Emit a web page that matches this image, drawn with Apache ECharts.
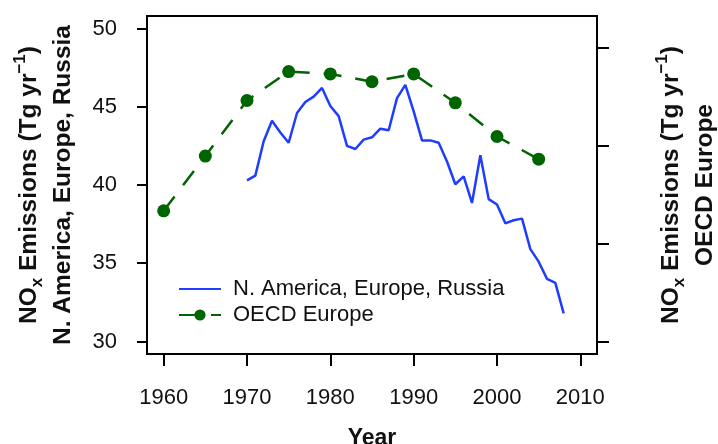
<!DOCTYPE html>
<html>
<head>
<meta charset="utf-8">
<script src="https://cdn.jsdelivr.net/npm/echarts@6/dist/echarts.min.js"></script>
<style>
  html, body { margin: 0; padding: 0; background: #fff; }
  #chart { width: 718px; height: 444px; }
</style>
</head>
<body>
<div id="chart"></div>
<script>
// N. America, Europe, Russia (annual)
let naerYears = [
  1970, 1971, 1972, 1973, 1974, 1975, 1976, 1977, 1978, 1979,
  1980, 1981, 1982, 1983, 1984, 1985, 1986, 1987, 1988, 1989,
  1990, 1991, 1992, 1993, 1994, 1995, 1996, 1997, 1998, 1999,
  2000, 2001, 2002, 2003, 2004, 2005, 2006, 2007, 2008,
];
let naerValues = [
  40.3, 40.6, 42.8, 44.1, 43.35, 42.7, 44.6, 45.3, 45.65, 46.2,
  45.05, 44.4, 42.5, 42.3, 42.9, 43.05, 43.6, 43.5, 45.55, 46.4,
  44.7, 42.85, 42.85, 42.7, 41.5, 40.05, 40.55, 38.85, 41.9, 39.1,
  38.75, 37.55, 37.75, 37.85, 35.9, 35.1, 34.0, 33.75, 31.8,
];

// OECD Europe (every 5 years)
let oecdYears = [1960, 1965, 1970, 1975, 1980, 1985, 1990, 1995, 2000, 2005];
let oecdValues = [38.35, 41.85, 45.4, 47.25, 47.1, 46.6, 47.1, 45.25, 43.1, 41.65];

let xTicks = [1960, 1970, 1980, 1990, 2000, 2010];
let yTicks = [30, 35, 40, 45, 50];
let yRightTicks = [1, 2, 3, 4];

let myChart = echarts.init(document.getElementById("chart"));

let font = "'Liberation Sans', Arial, sans-serif";
let nameRich = {
  a: { fontFamily: font, fontSize: 24.5, fontWeight: "bold", color: "#111", lineHeight: 34 },
  sub: { fontFamily: font, fontSize: 17, fontWeight: "bold", color: "#111", lineHeight: 22, verticalAlign: "bottom" },
  sup: { fontFamily: font, fontSize: 17, fontWeight: "bold", color: "#111", lineHeight: 22, verticalAlign: "top" },
};
let noxLine = "{a|NO}{sub|x}{a| Emissions (Tg yr}{sup|\u22121}{a|)}";

let option = {
  animation: false,
  textStyle: { fontFamily: font },
  grid: {
    left: 147,
    right: 121,
    top: 16,
    bottom: 90,
    containLabel: false,
    outerBoundsMode: "none",
    show: true,
    borderColor: "#000",
    borderWidth: 2,
  },
  legend: {
    orient: "vertical",
    left: 173,
    top: 273,
    itemWidth: 42,
    itemHeight: 14,
    itemGap: 4,
    textStyle: { fontSize: 22, lineHeight: 22, color: "#111", padding: [0, 0, 0, 7] },
    data: [
      { name: "N. America, Europe, Russia", itemStyle: { opacity: 0 } },
      { name: "OECD Europe" },
    ],
  },
  xAxis: {
    type: "value",
    min: 1958,
    max: 2012,
    name: "Year",
    nameLocation: "middle",
    nameGap: 73,
    nameTextStyle: { fontSize: 23, fontWeight: "bold", color: "#111" },
    axisLine: { onZero: false, lineStyle: { color: "#000", width: 2 } },
    axisTick: { customValues: xTicks, length: 12, lineStyle: { color: "#000", width: 2 } },
    axisLabel: {
      customValues: xTicks,
      margin: 33,
      fontSize: 22,
      color: "#111",
      formatter: (v) => String(v),
    },
    splitLine: { show: false },
  },
  yAxis: [
    {
      type: "value",
      position: "left",
      min: 29.2,
      max: 50.8,
      name: noxLine + "\n{a|N. America, Europe, Russia}",
      nameLocation: "middle",
      nameRotate: 90,
      nameGap: 67,
      nameTextStyle: { rich: nameRich },
      axisLine: { show: true, onZero: false, lineStyle: { color: "#000", width: 2 } },
      axisTick: { customValues: yTicks, length: 10, lineStyle: { color: "#000", width: 2 } },
      axisLabel: { customValues: yTicks, margin: 30, fontSize: 22, color: "#111" },
      splitLine: { show: false },
    },
    {
      type: "value",
      position: "right",
      min: 0.8776,
      max: 4.327,
      name: noxLine + "\n{a|OECD Europe}",
      nameLocation: "middle",
      nameRotate: 90,
      nameGap: 57,
      nameTextStyle: { rich: nameRich },
      axisLine: { show: true, onZero: false, lineStyle: { color: "#000", width: 2 } },
      axisTick: { customValues: yRightTicks, length: 12, lineStyle: { color: "#000", width: 2 } },
      axisLabel: { show: false },
      splitLine: { show: false },
    },
  ],
  series: [
    {
      name: "N. America, Europe, Russia",
      type: "line",
      yAxisIndex: 0,
      data: naerYears.map((y, i) => [y, naerValues[i]]),
      showSymbol: false,
      symbol: "none",
      color: "#1f3dff",
      lineStyle: { color: "#1f3dff", width: 2.5 },
    },
    {
      name: "OECD Europe",
      type: "line",
      yAxisIndex: 0,
      data: oecdYears.map((y, i) => [y, oecdValues[i]]),
      symbol: "circle",
      symbolSize: 13,
      color: "#006400",
      itemStyle: { color: "#006400" },
      lineStyle: { color: "#006400", width: 2.5, type: [18, 14] },
    },
  ],
};
myChart.setOption(option);
window.addEventListener("resize", () => {
  myChart.resize();
});
</script>
</body>
</html>
